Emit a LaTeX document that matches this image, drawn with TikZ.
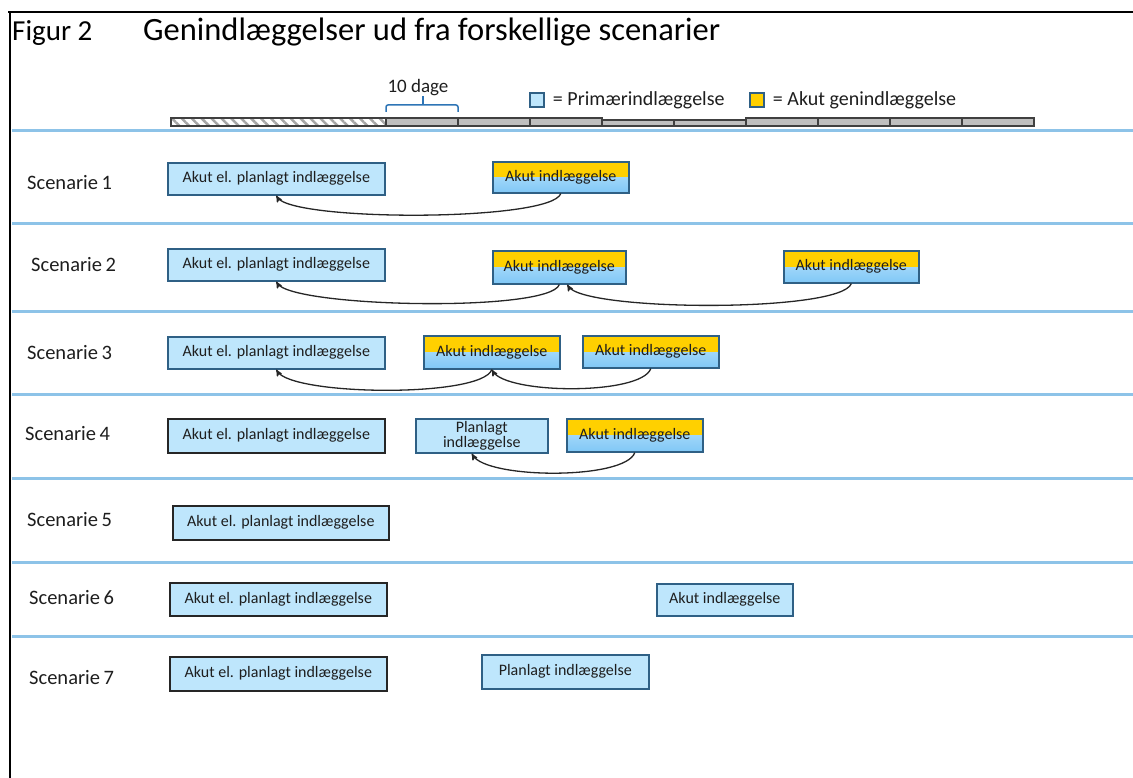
\documentclass[tikz,border=0pt]{standalone}
\usepackage{fontspec}
\setmainfont{Carlito}
\usepackage{xcolor}
\usepackage{tikz}
\usetikzlibrary{arrows,positioning,patterns.meta}

\definecolor{primblue}{RGB}{190,230,252}
\definecolor{akutblue}{RGB}{128,199,246}
\definecolor{akutgul}{RGB}{255,208,0}
\definecolor{boxedge}{RGB}{47,96,133}
\definecolor{seplinje}{RGB}{141,195,232}
\definecolor{bracebl}{RGB}{46,117,182}
\definecolor{txt}{RGB}{30,30,30}

\begin{document}
\begin{tikzpicture}[x=1pt,y=-1pt,
  prim/.style={draw=boxedge,line width=1.6pt,fill=primblue,text=txt,inner sep=0pt,
    anchor=north west,font=\fontsize{16}{17}\selectfont},
  primsort/.style={prim,draw=black!85},
  akut/.style={prim,top color=primblue,bottom color=akutblue,
    path picture={\fill[akutgul] (path picture bounding box.north west) rectangle (path picture bounding box.east);}},
  lbl/.style={anchor=west,inner sep=0pt,text=txt,font=\fontsize{20.5}{22}\selectfont},
  sep/.style={seplinje,line width=3pt},
  legsq/.style={draw=boxedge,line width=1.5pt,minimum size=14pt,inner sep=0pt},
  back/.style={out=-110,in=-60}
]
\useasboundingbox (0,0) rectangle (1133,778);

% ramme
\draw[line width=2pt] (8,12) -- (1133,12);
\draw[line width=1.5pt] (10,12) -- (10,778);

% titel
\node[anchor=base west,inner sep=0pt,font=\fontsize{29}{31}\selectfont] (fig) at (12,41) {Figur 2};
\node[anchor=base west,inner sep=0pt,font=\fontsize{32.5}{34}\selectfont] (titel) at (143,41) {Genindlæggelser ud fra forskellige scenarier};

% tidslinje
\draw[black!75,line width=1.5pt,pattern={Lines[angle=135,distance=7pt,line width=2.5pt]},pattern color=black!35]
  (171,118) rectangle (386,126);
\foreach \x/\t in {386/118,458/118,530/118,602/120,674/120,746/118,818/118,890/118,962/118}
  \draw[black!75,line width=1.5pt,fill=black!25] (\x,\t) rectangle (\x+72,126);

\node[font=\fontsize{19}{20}\selectfont,text=txt,inner sep=0pt] (dage) at (418,88) {10 dage};
\draw[bracebl,line width=1.5pt,rounded corners=2pt] (386,112) -- (386,105) -- (458,105) -- (458,112);
\draw[bracebl,line width=1.5pt] (423,105) -- (423,96);

% forklaring
\node[legsq,fill=primblue] (legprim) at (537,100) {};
\node[right=8pt of legprim,inner sep=0pt,font=\fontsize{20}{21}\selectfont,text=txt] (legprimtxt) {= Primærindlæggelse};
\node[legsq,fill=akutgul] (legakut) at (757,100) {};
\node[right=8pt of legakut,inner sep=0pt,font=\fontsize{20}{21}\selectfont,text=txt] (legakuttxt) {= Akut genindlæggelse};

% skillelinjer
\foreach \y in {131,224,311,394,478,562,636}
  \draw[sep] (12,\y) -- (1133,\y);

% scenarier
\foreach \i/\x/\y in {1/27/183,2/31/265,3/27/353,4/25/434,5/27/520,6/29/598,7/29/678}
  \node[lbl] (sc\i) at (\x,\y) {Scenarie\,\i};

% Scenarie 1
\node[prim,minimum width=217,minimum height=32] (s1a) at (167,162) {Akut el. planlagt indlæggelse};
\node[akut,minimum width=136,minimum height=31] (s1b) at (492,161) {Akut indlæggelse};

% Scenarie 2
\node[prim,minimum width=217,minimum height=32] (s2a) at (167,248) {Akut el. planlagt indlæggelse};
\node[akut,minimum width=133,minimum height=33] (s2b) at (492,250) {Akut indlæggelse};
\node[akut,minimum width=135,minimum height=32] (s2c) at (783,250) {Akut indlæggelse};

% Scenarie 3
\node[prim,minimum width=217,minimum height=32] (s3a) at (167,336) {Akut el. planlagt indlæggelse};
\node[akut,minimum width=136,minimum height=33] (s3b) at (423,335) {Akut indlæggelse};
\node[akut,minimum width=136,minimum height=32] (s3c) at (582,335) {Akut indlæggelse};

% Scenarie 4
\node[primsort,minimum width=217,minimum height=34] (s4a) at (167,418) {Akut el. planlagt indlæggelse};
\node[prim,minimum width=132,minimum height=34,align=center,font=\fontsize{16}{15}\selectfont] (s4b) at (415,418) {Planlagt\\indlæggelse};
\node[akut,minimum width=136,minimum height=33] (s4c) at (566,418) {Akut indlæggelse};

% Scenarie 5-7
\node[primsort,minimum width=216,minimum height=34] (s5a) at (172,505) {Akut el. planlagt indlæggelse};
\node[primsort,minimum width=217,minimum height=33] (s6a) at (169,582) {Akut el. planlagt indlæggelse};
\node[prim,minimum width=136,minimum height=32] (s6b) at (656,583) {Akut indlæggelse};
\node[primsort,minimum width=217,minimum height=34] (s7a) at (169,656) {Akut el. planlagt indlæggelse};
\node[prim,minimum width=167,minimum height=34] (s7b) at (481,654) {Planlagt indlæggelse};

% genindlæggelser
\path[->,>=stealth',line width=1.3pt,black!85]
  (s1b.south) edge[back,looseness=0.27] (s1a.south)
  (s2b.south) edge[back,looseness=0.27] (s2a.south)
  (s2c.south) edge[back,looseness=0.28] ([xshift=8pt]s2b.south)
  (s3b.south) edge[back,looseness=0.36] (s3a.south)
  (s3c.south) edge[back,looseness=0.46] (s3b.south)
  (s4c.south) edge[back,looseness=0.46] ([xshift=-10pt]s4b.south)
;
\end{tikzpicture}
\end{document}
